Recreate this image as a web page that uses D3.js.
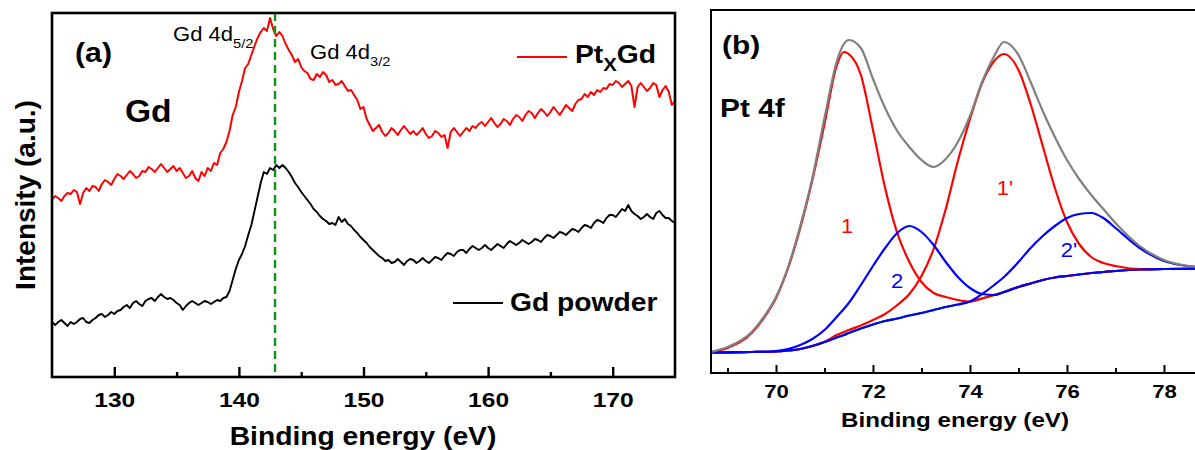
<!DOCTYPE html>
<html><head><meta charset="utf-8">
<script src="https://cdn.jsdelivr.net/npm/d3@7"></script>
<style>body{margin:0;background:#fff;} svg{display:block;font-family:"Liberation Sans",Arial,sans-serif;}</style>
</head><body><svg id="c" width="1195" height="450"></svg>
<script>
// ---------- Panel (a) data: Gd 4d XPS, 0.25 eV steps from 125 to 175 eV ----------
const energyA = d3.range(0, 201).map(i => 125 + i * 0.25);
const ptGdA = [
177,181,179,176, 181,184,183,187, 185,173,184,189, 186,191,190,186, 193,197,195,192,
198,203,201,198, 202,206,203,199, 201,206,205,210, 208,205,209,213, 209,205,208,211,
206,209,204,199, 201,206,199,196, 205,201,209,206, 214,212,224,228, 235,246,262,270,
285,296,309,313, 322,331,339,345, 349,346,359,348, 341,345,341,333, 327,322,315,318,
310,306,304,298, 297,303,300,305, 302,295,297,292, 293,296,291,286, 287,282,277,268,
270,258,252,246, 249,252,245,241, 244,249,246,242, 247,251,247,243, 246,242,245,249,
243,239,241,246, 244,240,242,229, 245,249,245,241, 245,249,246,251, 249,253,255,251,
255,259,254,250, 253,258,256,252, 258,262,260,256, 262,266,264,259, 264,268,265,261,
265,270,266,262, 267,272,269,266, 273,277,278,283, 280,285,282,287, 285,289,288,293,
292,296,294,290, 293,296,291,270, 290,294,290,286, 289,294,292,280, 287,291,285,272,
276];
const gdPowderA = [
55,52,55,57, 54,51,55,53, 55,58,59,55, 54,57,59,62, 63,60,62,65,
63,66,67,70, 72,69,74,76, 73,71,76,78, 79,76,80,83, 80,78,79,77,
74,72,67,71, 74,76,74,72, 74,76,75,73, 75,77,76,79, 80,86,97,108,
117,123,131,142, 152,166,180,194, 205,203,209,207, 212,209,212,209, 205,200,194,190,
185,181,177,173, 168,165,161,158, 156,153,154,152, 160,155,158,153, 151,147,144,140,
137,134,130,127, 124,121,119,116, 117,114,115,118, 115,112,116,118, 117,114,116,119,
116,114,117,120, 119,117,121,124, 123,121,125,127, 127,124,128,131, 129,127,129,132,
129,127,130,133, 131,129,133,136, 134,132,134,137, 135,133,135,138, 137,135,139,142,
141,139,142,145, 144,142,145,148, 147,145,149,152, 151,149,154,157, 156,154,159,162,
162,160,164,168, 166,172,166,163, 161,158,160,163, 160,158,164,166, 162,159,159,156,
154];
const majorTicksA = [130, 140, 150, 160, 170];
const minorTicksA = [135, 145, 155, 165];
const peakLineA = 142.9;

// ---------- Panel (b) data: Pt 4f fit ----------
const energyB = [68.66,69.0,69.5,69.75,70.0,70.25,70.5,70.75,71.0,71.25,71.4,71.5,71.75,72.0,72.25,72.5,72.75,73.0,73.25,73.5,73.75,74.0,74.25,74.5,74.7,75.0,75.25,75.5,75.75,76.0,76.25,76.5,76.75,77.0,77.5,78.0,78.66];
const envelopeB = [21,26,41,56,76,106,147,195,255,311,329,333,325,294,265,242,226,213,206,214,231,257,291,317,331,318,291,262,236,213,194,178,164,150,127,113,106];
const peak1B = [20.5,25,40,55,75,105,145,193,249,307,321,319,298,243,185,140,111,91,80,76,73,71.5,74.5,78,81,86,89.5,93,95.5,97,98.5,100,101,102,103.5,104,104.3];
const peak1pB = [20.5,20.7,21,21.2,21.5,22.5,24,27,31,38,41,43,47.5,53,59,68,79,97,124,164,212,254,290,312,319,303,269,227,185,151,129,116,110,107,104,104,104.3];
const peak2B = [20.5,20.7,21,21.2,22,24,28,34,43,56,64,70,88,107,125,140,147,141,128,111,96,85,79,78,81,86,89.5,93,95.5,97,98.5,100,101,102,103.5,104,104.3];
const peak2pB = [20.5,20.7,21,21.2,21.5,22.5,24,27,31,35.5,38,40,44.5,48.5,52,54.5,57.5,60,63,66,68.5,71.5,79,88,96,111,125,137,147,155,159,160,155,145,125,112,106];
const backgroundB = [20.5,20.7,21,21.2,21.5,22.5,24,27,31,35.5,38,40,44.5,48.5,52,54.5,57.5,60,63,66,68.5,71.5,74.5,78,81,86,89.5,93,95.5,97,98.5,100,101,102,103.5,104,104.3];
const majorTicksB = [70, 72, 74, 76, 78];
const minorTicksB = [69, 71, 73, 75, 77];

// ---------- drawing ----------
const FONT = '"Liberation Sans", Arial, sans-serif';
const svg = d3.select("#c");
svg.append("rect").attr("width", 1195).attr("height", 450).attr("fill", "#fff");

function txt(parent, x, y, s, o) {
  const t = parent.append("text")
    .attr("transform", `translate(${x},${y}) scale(${o.sx || 1},1)`)
    .attr("font-family", FONT)
    .attr("font-size", o.size)
    .attr("font-weight", o.weight || "normal")
    .attr("fill", o.fill || "#000")
    .attr("text-anchor", o.anchor || "start");
  if (s !== null) t.text(s);
  return t;
}

function bottomAxis(g, scale, y, major, minor, majLen, minLen, labelY, fsize, sx, sw) {
  const ax = g.append("g").attr("transform", `translate(0,${y})`)
    .call(d3.axisBottom(scale).tickValues(major).tickSize(-majLen).tickPadding(0).tickFormat(d3.format("d")));
  ax.select(".domain").remove();
  ax.selectAll(".tick line").attr("stroke", "#000").attr("stroke-width", sw);
  ax.selectAll(".tick text").attr("y", labelY).attr("dy", null).attr("fill", "#000")
    .attr("font-size", fsize).attr("font-weight", "bold").attr("font-family", FONT)
    .attr("transform", `scale(${sx},1)`);
  const mn = g.append("g").attr("transform", `translate(0,${y})`)
    .call(d3.axisBottom(scale).tickValues(minor).tickSize(-minLen).tickFormat(""));
  mn.select(".domain").remove();
  mn.selectAll(".tick line").attr("stroke", "#000").attr("stroke-width", sw);
}

// ===== Panel (a) =====
const A = {l: 52, r: 675, t: 13, b: 377};
const xA = d3.scaleLinear().domain([125, 175]).range([A.l, A.r]);
const yA = d3.scaleLinear().domain([0, 364]).range([A.b, A.t]);
const gA = svg.append("g");
svg.append("clipPath").attr("id", "clipA").append("rect")
  .attr("x", A.l).attr("y", A.t).attr("width", A.r - A.l).attr("height", A.b - A.t);
const plotA = gA.append("g").attr("clip-path", "url(#clipA)");
const lineA = arr => d3.line().x((d, i) => xA(energyA[i])).y(d => yA(d))(arr);
plotA.append("path").attr("d", lineA(ptGdA)).attr("fill", "none").attr("stroke", "#ff0000").attr("stroke-width", 2).attr("stroke-linejoin", "round");
plotA.append("path").attr("d", lineA(gdPowderA)).attr("fill", "none").attr("stroke", "#000").attr("stroke-width", 1.9).attr("stroke-linejoin", "round");
plotA.append("line").attr("x1", xA(peakLineA)).attr("x2", xA(peakLineA)).attr("y1", A.t).attr("y2", A.b)
  .attr("stroke", "#11901a").attr("stroke-width", 2.4).attr("stroke-dasharray", "8,5");
gA.append("rect").attr("x", A.l).attr("y", A.t).attr("width", A.r - A.l).attr("height", A.b - A.t)
  .attr("fill", "none").attr("stroke", "#000").attr("stroke-width", 2.6);
bottomAxis(gA, xA, A.b, majorTicksA, minorTicksA, 10, 5, 30, 21, 1.17, 2.4);

txt(gA, 363, 445, "Binding energy (eV)", {size: 25, weight: "bold", anchor: "middle", sx: 1.13});
gA.append("text").attr("transform", "translate(35,195) rotate(-90)")
  .attr("font-family", FONT).attr("font-size", 28).attr("font-weight", "bold")
  .attr("text-anchor", "middle").text("Intensity (a.u.)");
txt(gA, 75, 62, "(a)", {size: 27, weight: "bold", sx: 1.12});
txt(gA, 125, 122, "Gd", {size: 32, weight: "bold", sx: 1.05});
const s1 = txt(gA, 173, 41, null, {size: 19.5, sx: 1.13});
s1.append("tspan").text("Gd 4d");
s1.append("tspan").attr("font-size", 13).attr("dy", 7).text("5/2");
const s2 = txt(gA, 310, 59, null, {size: 19.5, sx: 1.13});
s2.append("tspan").text("Gd 4d");
s2.append("tspan").attr("font-size", 13).attr("dy", 7).text("3/2");
// legend
gA.append("line").attr("x1", 517).attr("x2", 567).attr("y1", 57).attr("y2", 57).attr("stroke", "#ff0000").attr("stroke-width", 2);
const lg = txt(gA, 575, 63, null, {size: 25, weight: "bold", sx: 1.13});
lg.append("tspan").text("Pt");
lg.append("tspan").attr("font-size", 18).attr("dy", 8).text("X");
lg.append("tspan").attr("dy", -8).text("Gd");
gA.append("line").attr("x1", 453).attr("x2", 503).attr("y1", 303).attr("y2", 303).attr("stroke", "#000").attr("stroke-width", 2);
txt(gA, 510, 311, "Gd powder", {size: 25, weight: "bold", sx: 1.13});

// ===== Panel (b) =====
const B = {l: 711, r: 1196, t: 10, b: 373};
const xB = d3.scaleLinear().domain([68.66, 78.66]).range([B.l, B.r]);
const yB = d3.scaleLinear().domain([0, 363]).range([B.b, B.t]);
const gB = svg.append("g");
svg.append("clipPath").attr("id", "clipB").append("rect")
  .attr("x", B.l).attr("y", B.t).attr("width", B.r - B.l).attr("height", B.b - B.t);
const plotB = gB.append("g").attr("clip-path", "url(#clipB)");
const lineB = arr => d3.line().curve(d3.curveMonotoneX).x((d, i) => xB(energyB[i])).y(d => yB(d))(arr);
const drawB = (arr, col) => plotB.append("path").attr("d", lineB(arr)).attr("fill", "none")
  .attr("stroke", col).attr("stroke-width", 2.2).attr("stroke-linejoin", "round");
drawB(backgroundB, "#008000");
drawB(peak1B, "#ff0000");
drawB(peak1pB, "#ff0000");
drawB(peak2B, "#0000ff");
drawB(peak2pB, "#0000ff");
drawB(envelopeB, "#808080");
gB.append("rect").attr("x", B.l).attr("y", B.t).attr("width", B.r - B.l).attr("height", B.b - B.t)
  .attr("fill", "none").attr("stroke", "#000").attr("stroke-width", 2);
bottomAxis(gB, xB, B.b, majorTicksB, minorTicksB, 8, 5, 25, 18.5, 1.2, 2);

txt(gB, 955, 427, "Binding energy (eV)", {size: 21, weight: "bold", anchor: "middle", sx: 1.15});
txt(gB, 722, 54, "(b)", {size: 26, weight: "bold", sx: 1.15});
txt(gB, 720, 117, "Pt 4f", {size: 26, weight: "bold", sx: 1.15});
txt(gB, 847, 233, "1", {size: 20, fill: "#ff0000", anchor: "middle", sx: 1.1});
txt(gB, 897, 288, "2", {size: 20, fill: "#0000ff", anchor: "middle", sx: 1.1});
txt(gB, 1005, 195, "1'", {size: 20, fill: "#ff0000", anchor: "middle", sx: 1.1});
txt(gB, 1069, 257, "2'", {size: 20, fill: "#0000ff", anchor: "middle", sx: 1.1});
</script></body></html>
